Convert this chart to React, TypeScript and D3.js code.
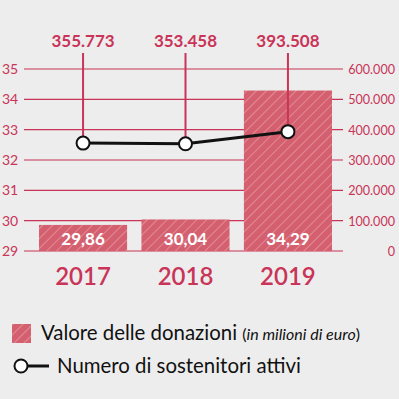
import { useEffect, useRef } from 'react';
import * as d3 from 'd3';

const years = ['2017', '2018', '2019'];
const donations = [29.86, 30.04, 34.29];
const donationLabels = ['29,86', '30,04', '34,29'];
const supporters = [355773, 353458, 393508];
const supporterLabels = ['355.773', '353.458', '393.508'];
const leftTicks = [29, 30, 31, 32, 33, 34, 35];
const rightTicks = [0, 100000, 200000, 300000, 400000, 500000, 600000];

const RED = '#c93458';
const BAR = '#d4606f';
const FONT = 'Lato, "Open Sans", sans-serif';

export default function App() {
    const ref = useRef<SVGSVGElement | null>(null);

    useEffect(() => {
        if (!ref.current) return;
        const svg = d3.select(ref.current);
        svg.selectAll('*').remove();

        const W = 399, H = 399;
        const plotLeft = 24, plotRight = 343;
        const top = 69, bottom = 251;

        svg.append('rect').attr('width', W).attr('height', H).attr('fill', '#ededed');

        const defs = svg.append('defs');
        const pat = defs.append('pattern')
            .attr('id', 'hatch')
            .attr('patternUnits', 'userSpaceOnUse')
            .attr('width', 7).attr('height', 7)
            .attr('patternTransform', 'rotate(45)');
        pat.append('rect').attr('width', 7).attr('height', 7).attr('fill', BAR);
        pat.append('line').attr('x1', 0).attr('y1', 0).attr('x2', 0).attr('y2', 7)
            .attr('stroke', '#f2b8bf').attr('stroke-width', 1.2).attr('opacity', 0.8);

        const x = d3.scaleBand().domain(years).range([39, 332]).paddingInner(0.14).paddingOuter(0);
        const yL = d3.scaleLinear().domain([29, 35]).range([bottom, top]);
        const yR = d3.scaleLinear().domain([0, 600000]).range([bottom, top]);

        // gridlines
        svg.append('g').selectAll('line').data(leftTicks).enter().append('line')
            .attr('x1', plotLeft).attr('x2', plotRight)
            .attr('y1', d => yL(d)).attr('y2', d => yL(d))
            .attr('stroke', RED).attr('stroke-width', 1.2);

        // left axis labels
        svg.append('g').selectAll('text').data(leftTicks).enter().append('text')
            .attr('x', 2).attr('y', d => yL(d) + 5)
            .attr('fill', RED).attr('font-family', FONT).attr('font-size', 14)
            .text(d => d);

        // right axis labels
        svg.append('g').selectAll('text').data(rightTicks).enter().append('text')
            .attr('x', 395).attr('y', d => yR(d) + 5)
            .attr('text-anchor', 'end')
            .attr('fill', RED).attr('font-family', FONT).attr('font-size', 12.6)
            .text(d => d3.format(',')(d).replace(/,/g, '.'));

        // bars
        svg.append('g').selectAll('rect').data(donations).enter().append('rect')
            .attr('x', (d, i) => x(years[i])!)
            .attr('width', x.bandwidth())
            .attr('y', d => yL(d))
            .attr('height', d => bottom - yL(d))
            .attr('fill', 'url(#hatch)');

        svg.append('g').selectAll('text').data(donationLabels).enter().append('text')
            .attr('x', (d, i) => x(years[i])! + x.bandwidth() / 2)
            .attr('y', 245)
            .attr('text-anchor', 'middle')
            .attr('fill', '#fff').attr('font-family', FONT).attr('font-weight', 700).attr('font-size', 17)
            .text(d => d);

        // year labels
        svg.append('g').selectAll('text').data(years).enter().append('text')
            .attr('x', d => x(d)! + x.bandwidth() / 2)
            .attr('y', 285)
            .attr('text-anchor', 'middle')
            .attr('fill', RED).attr('font-family', FONT).attr('font-weight', 600).attr('font-size', 24)
            .text(d => d);

        const cx = (i: number) => x(years[i])! + x.bandwidth() / 2;

        // callout stems
        svg.append('g').selectAll('line').data(supporters).enter().append('line')
            .attr('x1', (d, i) => cx(i)).attr('x2', (d, i) => cx(i))
            .attr('y1', 53).attr('y2', d => yR(d))
            .attr('stroke', RED).attr('stroke-width', 2);

        svg.append('g').selectAll('text').data(supporterLabels).enter().append('text')
            .attr('x', (d, i) => cx(i)).attr('y', 47)
            .attr('text-anchor', 'middle')
            .attr('fill', RED).attr('font-family', FONT).attr('font-weight', 700).attr('font-size', 17)
            .text(d => d);

        // line + markers
        const line = d3.line<number>().x((d, i) => cx(i)).y(d => yR(d));
        svg.append('path').datum(supporters).attr('d', line)
            .attr('fill', 'none').attr('stroke', '#111').attr('stroke-width', 3);
        svg.append('g').selectAll('circle').data(supporters).enter().append('circle')
            .attr('cx', (d, i) => cx(i)).attr('cy', d => yR(d)).attr('r', 6.5)
            .attr('fill', '#fff').attr('stroke', '#111').attr('stroke-width', 2);

        // legend
        const lg = svg.append('g');
        lg.append('rect').attr('x', 12).attr('y', 324).attr('width', 19).attr('height', 19)
            .attr('fill', 'url(#hatch)');
        const t1 = lg.append('text').attr('x', 41).attr('y', 340)
            .attr('font-family', FONT).attr('fill', '#111');
        t1.append('tspan').attr('font-size', 20.4).text('Valore delle donazioni ');
        t1.append('tspan').attr('font-size', 16).text('(');
        t1.append('tspan').attr('font-size', 16).attr('font-style', 'italic').text('in milioni di euro');
        t1.append('tspan').attr('font-size', 16).text(')');

        lg.append('line').attr('x1', 20).attr('x2', 49).attr('y1', 366).attr('y2', 366)
            .attr('stroke', '#111').attr('stroke-width', 3);
        lg.append('circle').attr('cx', 21).attr('cy', 366).attr('r', 6.5)
            .attr('fill', '#fff').attr('stroke', '#111').attr('stroke-width', 2);
        lg.append('text').attr('x', 57).attr('y', 373)
            .attr('font-family', FONT).attr('font-size', 20.4).attr('fill', '#111')
            .text('Numero di sostenitori attivi');
    }, []);

    return (
        <svg ref={ref} width={399} height={399}
            style={{ position: 'absolute', left: 0, top: 0, display: 'block' }} />
    );
}
